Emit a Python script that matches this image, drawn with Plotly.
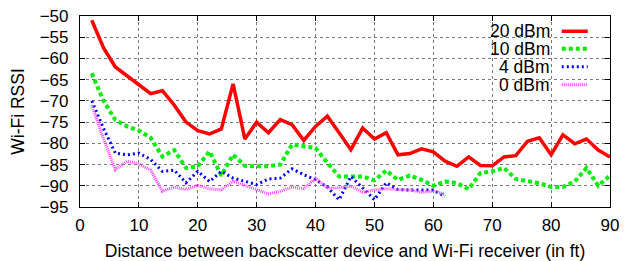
import plotly.graph_objects as go

dist_long = list(range(2, 92, 2))
dist_short = list(range(2, 64, 2))

rssi_20dbm = [-51, -57.5, -62, -64.2, -66.2, -68.3, -67.6, -71, -75, -77, -77.8, -76.6, -66,
              -79, -75, -77.5, -74.4, -75.6, -79.3, -76, -73.6, -77.5, -81.5, -76.4, -79,
              -77.5, -82.7, -82.4, -81.3, -82, -84.2, -85.4, -83.2, -85.2, -85.3, -83.2,
              -82.9, -79.5, -78.7, -82.7, -78, -80.1, -79, -81.6, -83.2]
rssi_10dbm = [-63.5, -70, -74.5, -76, -77, -78.7, -83.1, -81.6, -85.8, -85.4, -81.9, -87.6,
              -82.7, -85.3, -85.4, -85.4, -85, -80.3, -80.7, -81.1, -84.6, -87.8, -87.8,
              -87.8, -88.7, -86.4, -88.6, -87.6, -88.6, -90, -89, -89.4, -90.8, -87, -86.6,
              -85.8, -88.4, -88.8, -89.4, -90.3, -90.3, -89, -85.8, -90, -87.6]
rssi_4dbm = [-70, -76.5, -82.3, -82.7, -82.3, -83.8, -86.6, -86.3, -89.3, -86.6, -89, -86.6,
             -88.2, -89, -89.7, -88.4, -88.2, -86, -87.4, -88.6, -90.3, -93.3, -87.8, -90.5,
             -93.3, -89.3, -90.9, -91, -91, -91, -92.5]
rssi_0dbm = [-71, -79, -86.2, -84.2, -84.9, -86.3, -91.3, -90.3, -90.9, -89.9, -90.7, -91,
             -88.9, -89.9, -91, -91.9, -91.3, -90.3, -90.7, -88.2, -90.5, -90.5, -90.1, -91.5,
             -91, -90.7, -90.9, -91, -91.5, -91.3, -92]

series_names = ["20 dBm", "10 dBm", "4 dBm", "0 dBm"]
x_ticks = list(range(0, 100, 10))
y_ticks = list(range(-95, -45, 5))

styles = [
    dict(color="#ff0000", width=3.5, dash="solid"),
    dict(color="#00ee00", width=4, dash="4px,3px"),
    dict(color="#0000ff", width=3, dash="2px,3px"),
    dict(color="#ff44ff", width=3, dash="1px,1px"),
]
xs = [dist_long, dist_long, dist_short, dist_short]
ys = [rssi_20dbm, rssi_10dbm, rssi_4dbm, rssi_0dbm]

FONT = "Liberation Sans, Arial, sans-serif"
fig = go.Figure()
for name, x, y, st in zip(series_names, xs, ys, styles):
    fig.add_trace(go.Scatter(x=x, y=y, mode="lines", name=name, line=st,
                             showlegend=False))

# custom legend: right-aligned text followed by line sample
row_y = [0.920, 0.828, 0.734, 0.640]
for name, st, yy in zip(series_names, styles, row_y):
    fig.add_annotation(xref="paper", yref="paper", x=0.889, y=yy, text=name,
                       showarrow=False, xanchor="right", yanchor="middle",
                       height=16, borderpad=0,
                       font=dict(family=FONT, size=17.5, color="black"))
    fig.add_shape(type="line", xref="paper", yref="paper", x0=0.909, x1=0.958,
                  y0=yy, y1=yy, line=st)

axis_common = dict(
    showline=True, linecolor="black", linewidth=1.2, mirror="ticks",
    ticks="inside", ticklen=5, tickcolor="black", tickwidth=1,
    showgrid=True, gridcolor="#777777", griddash="dot", gridwidth=1,
    zeroline=False, automargin=False,
    tickfont=dict(family=FONT, size=17, color="black"),
)
fig.update_xaxes(range=[0, 90], tickvals=x_ticks, ticklabelstandoff=2, **axis_common,
                 title=dict(text="Distance between backscatter device and Wi-Fi receiver (in ft)",
                            font=dict(family=FONT, size=17.5, color="black"), standoff=12))
fig.update_yaxes(range=[-95, -50], tickvals=y_ticks, ticklabelstandoff=7, **axis_common,
                 title=dict(text="Wi-Fi RSSI", font=dict(family=FONT, size=17.5, color="black"),
                            standoff=10))
fig.update_layout(width=624, height=261, margin=dict(l=80, r=14, t=16, b=54),
                  plot_bgcolor="white", paper_bgcolor="white", showlegend=False)
fig.write_html("out.html", config={"displayModeBar": False},
               post_script="document.body.style.margin='0';document.body.style.overflow='hidden';")
